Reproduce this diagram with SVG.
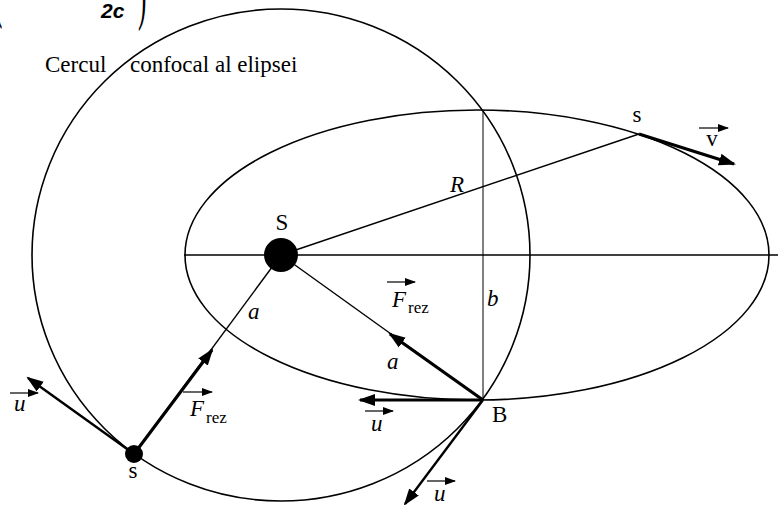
<svg xmlns="http://www.w3.org/2000/svg" width="781" height="505" viewBox="0 0 781 505">
<defs>
<marker id="ah" markerUnits="userSpaceOnUse" markerWidth="18" markerHeight="14" refX="15" refY="6" orient="auto" viewBox="0 0 18 12">
<path d="M0,0 L17,6 L0,12 z" fill="#000"/>
</marker>
<marker id="ahs" markerUnits="userSpaceOnUse" markerWidth="12" markerHeight="10" refX="10" refY="4" orient="auto" viewBox="0 0 12 8">
<path d="M0,0 L11,4 L0,8 z" fill="#000"/>
</marker>
</defs>
<style>
.curve{fill:none;stroke:#000;stroke-width:1.6}
.thin{fill:none;stroke:#000;stroke-width:1.4}
.hair{fill:none;stroke:#000;stroke-width:1}
.thick{fill:none;stroke:#000;stroke-width:3.2;marker-end:url(#ah)}
.mid{fill:none;stroke:#000;stroke-width:2.4;marker-end:url(#ah)}
.bar{fill:none;stroke:#000;stroke-width:1.2;marker-end:url(#ahs)}
.t{font-family:"Liberation Serif","Times New Roman",serif;font-size:23px;fill:#000}
.i{font-family:"Liberation Serif","Times New Roman",serif;font-size:23px;font-style:italic;fill:#000}
.sub{font-family:"Liberation Serif","Times New Roman",serif;font-size:17px;fill:#000}
.h{font-family:"Liberation Sans",Arial,sans-serif;font-size:21px;font-weight:bold;font-style:italic;fill:#000}
.p{font-family:"Liberation Serif","Times New Roman",serif;font-size:72px;fill:#000}
</style>
<rect width="781" height="505" fill="#fff"/>

<g id="header">
<text class="p" transform="translate(-6,14) scale(0.35,1)" x="0" y="0">(</text>
<text class="h" x="101" y="18">2c</text>
<text class="p" transform="translate(138,-4) scale(0.35,1)" x="0" y="20">)</text>
</g>

<g id="circle">
<ellipse class="curve" cx="281" cy="255" rx="249" ry="246"/>
<text class="t" x="45" y="72">Cercul</text>
<text class="t" x="130" y="72">confocal al elipsei</text>
</g>

<g id="ellipse">
<ellipse class="curve" cx="477" cy="255" rx="292" ry="145"/>
</g>

<g id="connectors">
<line class="thin" x1="184" y1="255" x2="778" y2="255"/>
<line class="hair" x1="483" y1="110" x2="483" y2="400"/>
<line class="thin" x1="281" y1="255" x2="639" y2="134"/>
<line class="thin" x1="281" y1="255" x2="483" y2="400"/>
<line class="thin" x1="281" y1="255" x2="134" y2="454"/>
<line class="thick" x1="483" y1="400" x2="390" y2="334"/>
<line class="thick" x1="134" y1="454" x2="212" y2="350"/>
<line class="mid" x1="134" y1="454" x2="28" y2="378"/>
<line class="thick" x1="639" y1="134" x2="734" y2="164"/>
<line class="thick" x1="483" y1="400" x2="360" y2="400"/>
<line class="mid" x1="483" y1="400" x2="405" y2="504"/>
</g>

<g id="sun">
<circle cx="281" cy="255" r="17" fill="#000"/>
<text class="t" x="282" y="230" text-anchor="middle">S</text>
</g>

<g id="satellite-top">
<text class="t" x="637" y="122" text-anchor="middle">s</text>
<line class="bar" x1="699" y1="128" x2="728" y2="128"/>
<text class="t" x="712" y="146" text-anchor="middle">v</text>
</g>

<g id="satellite-bottom">
<circle cx="134" cy="454" r="9" fill="#000"/>
<text class="t" x="133" y="478" text-anchor="middle">s</text>
<line class="bar" x1="10" y1="393" x2="38" y2="393"/>
<text class="i" x="14" y="411">u</text>
<line class="bar" x1="183" y1="392" x2="212" y2="392"/>
<text class="i" x="190" y="416">F</text>
<text class="sub" x="206" y="423">rez</text>
<text class="i" x="248" y="319">a</text>
</g>

<g id="point-B">
<text class="t" x="492" y="422">B</text>
<line class="bar" x1="387" y1="282" x2="415" y2="282"/>
<text class="i" x="392" y="307">F</text>
<text class="sub" x="408" y="313">rez</text>
<text class="i" x="387" y="369">a</text>
<text class="i" x="487" y="306">b</text>
<line class="bar" x1="365" y1="411" x2="393" y2="411"/>
<text class="i" x="371" y="431">u</text>
<line class="bar" x1="427" y1="481" x2="455" y2="481"/>
<text class="i" x="434" y="501">u</text>
</g>

<g id="radius-label">
<text class="i" x="450" y="192">R</text>
</g>
</svg>
